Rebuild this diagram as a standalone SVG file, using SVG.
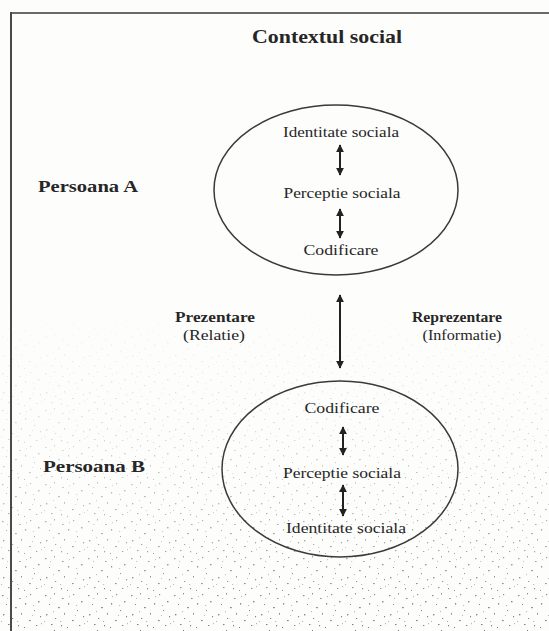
<svg xmlns="http://www.w3.org/2000/svg" width="549" height="631" viewBox="0 0 549 631">
  <defs>
    <style>
      text { font-family: "Liberation Serif", "Times New Roman", serif; fill: #262626; }
      .t { font-size: 15px; text-anchor: middle; }
      .b { font-weight: bold; }
      .oval { fill: none; stroke: #3a3a3a; stroke-width: 1.5; }
      .arr { stroke: #222; stroke-width: 2; fill: none; marker-start: url(#ah); marker-end: url(#ah); }
    </style>
    <marker id="ah" viewBox="0 0 10 10" refX="9" refY="5" markerWidth="4" markerHeight="4" orient="auto-start-reverse" markerUnits="strokeWidth">
      <path d="M0,0 L10,5 L0,10 z" fill="#222"/>
    </marker>
    <pattern id="speck" width="43" height="37" patternUnits="userSpaceOnUse">
      <g fill="#7e7e7e">
        <rect x="2" y="3" width="1.5" height="1.2"/>
        <rect x="11" y="1" width="1" height="1.5"/>
        <rect x="19" y="6" width="1.6" height="1"/>
        <rect x="30" y="2" width="1.2" height="1.2"/>
        <rect x="38" y="9" width="1.5" height="1.4"/>
        <rect x="6" y="12" width="1" height="1"/>
        <rect x="15" y="15" width="1.8" height="1.2"/>
        <rect x="25" y="11" width="1.2" height="1.6"/>
        <rect x="34" y="18" width="1" height="1.1"/>
        <rect x="3" y="22" width="1.4" height="1.4"/>
        <rect x="12" y="26" width="1.2" height="1"/>
        <rect x="21" y="21" width="1" height="1.6"/>
        <rect x="29" y="28" width="1.7" height="1.1"/>
        <rect x="40" y="24" width="1.1" height="1.3"/>
        <rect x="8" y="32" width="1.5" height="1.1"/>
        <rect x="18" y="33" width="1.1" height="1.3"/>
        <rect x="36" y="33" width="1.3" height="1"/>
        <rect x="24" y="35" width="1" height="1"/>
      </g>
      <g fill="#b0b0b0">
        <rect x="7" y="6" width="1.2" height="1"/>
        <rect x="26" y="4" width="1" height="1.2"/>
        <rect x="33" y="13" width="1.2" height="1"/>
        <rect x="10" y="19" width="1" height="1.2"/>
        <rect x="17" y="29" width="1.2" height="1"/>
        <rect x="32" y="23" width="1" height="1"/>
        <rect x="1" y="29" width="1.1" height="1"/>
        <rect x="41" y="31" width="1" height="1.2"/>
      </g>
    </pattern>
    <linearGradient id="fade" x1="0" y1="0" x2="0" y2="1">
      <stop offset="0" stop-color="#fff" stop-opacity="0"/>
      <stop offset="0.4" stop-color="#fff" stop-opacity="0.3"/>
      <stop offset="1" stop-color="#fff" stop-opacity="1"/>
    </linearGradient>
    <mask id="fm" maskUnits="userSpaceOnUse" x="0" y="300" width="549" height="331">
      <rect x="0" y="300" width="549" height="331" fill="url(#fade)"/>
    </mask>
  </defs>

  <rect x="0" y="0" width="549" height="631" fill="#fdfdfc"/>
  <rect x="0" y="300" width="549" height="331" fill="url(#speck)" mask="url(#fm)"/>

  <g id="frame">
    <line x1="10" y1="13" x2="549" y2="13" stroke="#6a6a6a" stroke-width="2"/>
    <line x1="11" y1="12" x2="11" y2="631" stroke="#4a4a4a" stroke-width="2"/>
  </g>

  <g id="title">
    <text class="t b" x="327" y="43" style="font-size:19px" textLength="150" lengthAdjust="spacingAndGlyphs">Contextul social</text>
  </g>

  <g id="persoanaA">
    <ellipse class="oval" cx="336" cy="190" rx="122" ry="85"/>
    <text class="t" x="341" y="137" textLength="116" lengthAdjust="spacingAndGlyphs">Identitate sociala</text>
    <text class="t" x="342" y="198" textLength="117" lengthAdjust="spacingAndGlyphs">Perceptie sociala</text>
    <text class="t" x="341" y="255" textLength="75" lengthAdjust="spacingAndGlyphs">Codificare</text>
  </g>
  <g id="labelA">
    <text class="b" x="38" y="192" style="font-size:17px" textLength="100" lengthAdjust="spacingAndGlyphs">Persoana A</text>
  </g>

  <g id="persoanaB">
    <ellipse class="oval" cx="340" cy="469" rx="118" ry="88"/>
    <text class="t" x="342" y="413" textLength="75" lengthAdjust="spacingAndGlyphs">Codificare</text>
    <text class="t" x="342" y="478" textLength="118" lengthAdjust="spacingAndGlyphs">Perceptie sociala</text>
    <text class="t" x="346" y="533" textLength="120" lengthAdjust="spacingAndGlyphs">Identitate sociala</text>
  </g>
  <g id="labelB">
    <text class="b" x="43" y="472" style="font-size:17px" textLength="102" lengthAdjust="spacingAndGlyphs">Persoana B</text>
  </g>

  <g id="prezentare">
    <text class="t b" x="215" y="322" style="font-size:15px" textLength="80" lengthAdjust="spacingAndGlyphs">Prezentare</text>
    <text class="t" x="214" y="340" textLength="62" lengthAdjust="spacingAndGlyphs">(Relatie)</text>
  </g>
  <g id="reprezentare">
    <text class="t b" x="457" y="322" style="font-size:15px" textLength="90" lengthAdjust="spacingAndGlyphs">Reprezentare</text>
    <text class="t" x="462" y="340" textLength="79" lengthAdjust="spacingAndGlyphs">(Informatie)</text>
  </g>

  <g id="connectors">
    <line class="arr" x1="340" y1="145" x2="340" y2="175"/>
    <line class="arr" x1="340" y1="209" x2="340" y2="238"/>
    <line class="arr" x1="340" y1="295" x2="340" y2="368"/>
    <line class="arr" x1="343" y1="427" x2="343" y2="455"/>
    <line class="arr" x1="343" y1="485" x2="343" y2="516"/>
  </g>
</svg>
